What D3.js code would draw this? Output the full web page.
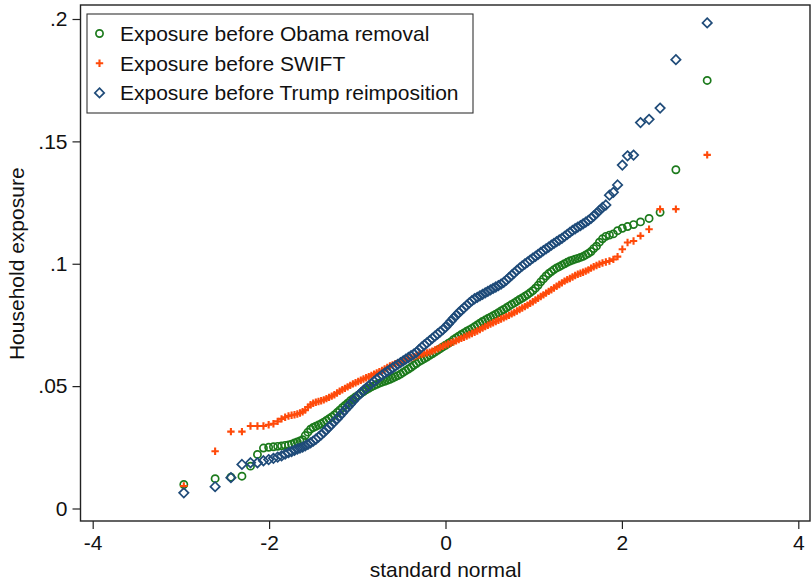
<!DOCTYPE html>
<html>
<head>
<meta charset="utf-8">
<script src="https://cdn.jsdelivr.net/npm/d3@7/dist/d3.min.js"></script>
<style>
  html, body { margin: 0; padding: 0; background: #fff; }
  svg { display: block; font-family: "Liberation Sans", Arial, sans-serif; }
</style>
</head>
<body>
<svg id="chart" width="811" height="580"></svg>
<script>
// Standard normal quantiles (shared by all three series)
const zScores = [
  -2.967, -2.612, -2.433, -2.308, -2.211, -2.132, -2.064, -2.005, -1.951, -1.903,
  -1.859, -1.818, -1.780, -1.745, -1.712, -1.680, -1.650, -1.620,
  -1.59, -1.56, -1.53, -1.50, -1.47, -1.44, -1.41, -1.38, -1.35, -1.32,
  -1.29, -1.26, -1.23, -1.20, -1.17, -1.14, -1.11, -1.08, -1.05, -1.02,
  -0.99, -0.96, -0.93, -0.90, -0.87, -0.84, -0.81, -0.78, -0.75, -0.72,
  -0.69, -0.66, -0.63, -0.60, -0.57, -0.54, -0.51, -0.48, -0.45, -0.42,
  -0.39, -0.36, -0.33, -0.30, -0.27, -0.24, -0.21, -0.18, -0.15, -0.12,
  -0.09, -0.06, -0.03,
  0,
  0.03, 0.06, 0.09, 0.12, 0.15, 0.18, 0.21, 0.24, 0.27, 0.30,
  0.33, 0.36, 0.39, 0.42, 0.45, 0.48, 0.51, 0.54, 0.57, 0.60,
  0.63, 0.66, 0.69, 0.72, 0.75, 0.78, 0.81, 0.84, 0.87, 0.90,
  0.93, 0.96, 0.99, 1.02, 1.05, 1.08, 1.11, 1.14, 1.17, 1.20,
  1.23, 1.26, 1.29, 1.32, 1.35, 1.38, 1.41, 1.44, 1.47, 1.50,
  1.53, 1.56, 1.59,
  1.620, 1.650, 1.680, 1.712, 1.745, 1.780, 1.818, 1.859, 1.903, 1.951,
  2.005, 2.064, 2.132, 2.211, 2.308, 2.433, 2.612, 2.967
];

// Household exposure quantiles, one value per z-score
const obamaExposure = [
  0.0098, 0.0122, 0.0128, 0.0132, 0.0173, 0.0221, 0.0247, 0.0250, 0.0252, 0.0254,
  0.0256, 0.0258, 0.0260, 0.0263, 0.0268, 0.0272, 0.0276, 0.0281,
  0.0298, 0.0312, 0.0324, 0.0331, 0.0336, 0.0341, 0.0346, 0.0353, 0.0360, 0.0367,
  0.0374, 0.0382, 0.0392, 0.0402, 0.0412, 0.0421, 0.0430, 0.0440, 0.0448, 0.0456,
  0.0463, 0.0470, 0.0478, 0.0485, 0.0491, 0.0497, 0.0502, 0.0507, 0.0512, 0.0516,
  0.0520, 0.0524, 0.0528, 0.0533, 0.0538, 0.0543, 0.0549, 0.0556, 0.0563, 0.0570,
  0.0577, 0.0585, 0.0592, 0.0600, 0.0606, 0.0612, 0.0619, 0.0626, 0.0632, 0.0639,
  0.0646, 0.0653, 0.0660,
  0.0667,
  0.0674, 0.0681, 0.0690, 0.0697, 0.0704, 0.0711, 0.0717, 0.0724, 0.0730, 0.0736,
  0.0743, 0.0750, 0.0757, 0.0764, 0.0770, 0.0776, 0.0782, 0.0788, 0.0794, 0.0800,
  0.0807, 0.0813, 0.0820, 0.0827, 0.0834, 0.0840, 0.0847, 0.0854, 0.0860, 0.0867,
  0.0874, 0.0882, 0.0890, 0.0900, 0.0912, 0.0926, 0.0938, 0.0950, 0.0960, 0.0968,
  0.0976, 0.0983, 0.0988, 0.0994, 0.1000, 0.1006, 0.1011, 0.1015, 0.1019, 0.1022,
  0.1026, 0.1030, 0.1036,
  0.1042, 0.1050, 0.1062, 0.1072, 0.1088, 0.1102, 0.1112, 0.1117, 0.1122, 0.1135,
  0.1145, 0.1152, 0.1160, 0.1171, 0.1185, 0.1210, 0.1384, 0.1749
];

const swiftExposure = [
  0.0092, 0.0234, 0.0314, 0.0314, 0.0337, 0.0337, 0.0337, 0.0342, 0.0346, 0.0356,
  0.0366, 0.0373, 0.0378, 0.0381, 0.0383, 0.0386, 0.0390, 0.0395,
  0.0402, 0.0414, 0.0424, 0.0430, 0.0434, 0.0437, 0.0440, 0.0444, 0.0449, 0.0454,
  0.0459, 0.0465, 0.0472, 0.0479, 0.0485, 0.0491, 0.0497, 0.0503, 0.0509, 0.0514,
  0.0519, 0.0524, 0.0529, 0.0534, 0.0539, 0.0544, 0.0549, 0.0554, 0.0559, 0.0564,
  0.0570, 0.0576, 0.0582, 0.0587, 0.0592, 0.0596, 0.0600, 0.0604, 0.0608, 0.0612,
  0.0616, 0.0620, 0.0624, 0.0627, 0.0630, 0.0633, 0.0636, 0.0639, 0.0643, 0.0648,
  0.0653, 0.0658, 0.0663,
  0.0668,
  0.0672, 0.0676, 0.0680, 0.0685, 0.0690, 0.0695, 0.0700, 0.0705, 0.0710, 0.0715,
  0.0720, 0.0725, 0.0731, 0.0737, 0.0743, 0.0749, 0.0754, 0.0759, 0.0764, 0.0769,
  0.0774, 0.0779, 0.0784, 0.0789, 0.0795, 0.0801, 0.0807, 0.0813, 0.0819, 0.0825,
  0.0831, 0.0838, 0.0845, 0.0852, 0.0859, 0.0866, 0.0873, 0.0880, 0.0887, 0.0894,
  0.0901, 0.0908, 0.0915, 0.0922, 0.0929, 0.0935, 0.0940, 0.0946, 0.0952, 0.0957,
  0.0961, 0.0965, 0.0970,
  0.0975, 0.0982, 0.0988, 0.0993, 0.0998, 0.1003, 0.1007, 0.1011, 0.1018, 0.1029,
  0.1059, 0.1087, 0.1093, 0.1114, 0.1141, 0.1223, 0.1223, 0.1445
];

const trumpExposure = [
  0.0064, 0.0089, 0.0126, 0.0180, 0.0187, 0.0187, 0.0195, 0.0200, 0.0205, 0.0210,
  0.0215, 0.0222, 0.0228, 0.0233, 0.0238, 0.0243, 0.0247, 0.0251,
  0.0256, 0.0262, 0.0268, 0.0275, 0.0283, 0.0292, 0.0301, 0.0311, 0.0322, 0.0333,
  0.0344, 0.0355, 0.0366, 0.0378, 0.0390, 0.0402, 0.0414, 0.0426, 0.0438, 0.0450,
  0.0461, 0.0472, 0.0483, 0.0492, 0.0501, 0.0510, 0.0519, 0.0528, 0.0537, 0.0545,
  0.0553, 0.0560, 0.0567, 0.0574, 0.0582, 0.0589, 0.0596, 0.0603, 0.0610, 0.0617,
  0.0624, 0.0631, 0.0638, 0.0649, 0.0659, 0.0668, 0.0677, 0.0686, 0.0695, 0.0704,
  0.0713, 0.0722, 0.0731,
  0.0741,
  0.0753, 0.0765, 0.0777, 0.0789, 0.0800, 0.0810, 0.0820, 0.0830, 0.0840, 0.0849,
  0.0857, 0.0863, 0.0869, 0.0875, 0.0881, 0.0887, 0.0893, 0.0899, 0.0905, 0.0911,
  0.0917, 0.0924, 0.0933, 0.0943, 0.0953, 0.0963, 0.0973, 0.0982, 0.0991, 0.0999,
  0.1007, 0.1015, 0.1023, 0.1030, 0.1038, 0.1046, 0.1054, 0.1061, 0.1068, 0.1076,
  0.1083, 0.1090, 0.1097, 0.1104, 0.1112, 0.1120, 0.1128, 0.1136, 0.1143, 0.1150,
  0.1156, 0.1163, 0.1170,
  0.1177, 0.1185, 0.1195, 0.1206, 0.1218, 0.1230, 0.1240, 0.1280, 0.1292, 0.1322,
  0.1403, 0.1441, 0.1444, 0.1577, 0.1590, 0.1636, 0.1834, 0.1984
];

const seriesNames = [
  "Exposure before Obama removal",
  "Exposure before SWIFT",
  "Exposure before Trump reimposition"
];

const xTicks = [-4, -2, 0, 2, 4];
const yTicks = [0, 0.05, 0.1, 0.15, 0.2];
const yTickLabels = ["0", ".05", ".1", ".15", ".2"];

const xTitle = "standard normal";
const yTitle = "Household exposure";

// ---- layout ----
const svg = d3.select("#chart");
const frame = { left: 80.5, top: 5, right: 810, bottom: 521 };
const textColor = "#111";
const fontSize = 21;

const x = d3.scaleLinear().domain([-4, 4]).range([92.7, 798.3]);
const y = d3.scaleLinear().domain([0, 0.2]).range([508.5, 19]);

const series = [
  { name: seriesNames[0], values: obamaExposure, color: "#1c7a1c", shape: "circle" },
  { name: seriesNames[1], values: swiftExposure, color: "#ff4a0a", shape: "plus" },
  { name: seriesNames[2], values: trumpExposure, color: "#1f4b79", shape: "diamond" }
];

// ---- plot frame ----
svg.append("rect")
  .attr("x", frame.left).attr("y", frame.top)
  .attr("width", frame.right - frame.left)
  .attr("height", frame.bottom - frame.top)
  .attr("fill", "none")
  .attr("stroke", "#222")
  .attr("stroke-width", 1.4);

// ---- axes ----
const yAxis = d3.axisLeft(y)
  .tickValues(yTicks)
  .tickFormat((d, i) => yTickLabels[i])
  .tickSize(8)
  .tickPadding(5);

const gy = svg.append("g")
  .attr("transform", `translate(${frame.left},0)`)
  .call(yAxis);

const xAxis = d3.axisBottom(x)
  .tickValues(xTicks)
  .tickFormat(d3.format("d"))
  .tickSize(8)
  .tickPadding(6);

const gx = svg.append("g")
  .attr("transform", `translate(0,${frame.bottom})`)
  .call(xAxis);

[gx, gy].forEach(g => {
  g.select(".domain").remove();
  g.selectAll(".tick line").attr("stroke", "#222").attr("stroke-width", 1.2);
  g.selectAll(".tick text")
    .attr("fill", textColor)
    .style("font-size", fontSize + "px");
});
gx.selectAll(".tick text").text(d => d < 0 ? "-" + Math.abs(d) : String(d));

// axis titles
svg.append("text")
  .attr("x", (x(-4) + x(4)) / 2)
  .attr("y", 577)
  .attr("text-anchor", "middle")
  .attr("fill", textColor)
  .style("font-size", fontSize + "px")
  .text(xTitle);

svg.append("text")
  .attr("transform", `translate(24,${(y(0) + y(0.2)) / 2}) rotate(-90)`)
  .attr("text-anchor", "middle")
  .attr("fill", textColor)
  .style("font-size", fontSize + "px")
  .text(yTitle);

// ---- markers ----
function drawMarker(g, shape, color, cx, cy) {
  if (shape === "circle") {
    g.append("circle")
      .attr("cx", cx).attr("cy", cy).attr("r", 3.6)
      .attr("fill", "none").attr("stroke", color).attr("stroke-width", 1.7);
  } else if (shape === "plus") {
    const s = 3.7;
    g.append("path")
      .attr("d", `M${cx - s},${cy}H${cx + s}M${cx},${cy - s}V${cy + s}`)
      .attr("fill", "none").attr("stroke", color).attr("stroke-width", 2.1);
  } else {
    const s = 4.7;
    g.append("path")
      .attr("d", `M${cx},${cy - s}L${cx + s},${cy}L${cx},${cy + s}L${cx - s},${cy}Z`)
      .attr("fill", "none").attr("stroke", color).attr("stroke-width", 1.7);
  }
}

const plot = svg.append("g").attr("class", "points");
series.forEach(s => {
  const g = plot.append("g").attr("class", "series");
  s.values.forEach((v, i) => drawMarker(g, s.shape, s.color, x(zScores[i]), y(v)));
});

// ---- legend ----
const legend = svg.append("g").attr("class", "legend");
legend.append("rect")
  .attr("x", 87).attr("y", 14)
  .attr("width", 386).attr("height", 99)
  .attr("fill", "#fff")
  .attr("stroke", "#333")
  .attr("stroke-width", 1.1);

series.forEach((s, i) => {
  const cy = 33.5 + i * 29.7;
  drawMarker(legend, s.shape, s.color, 99.5, cy);
  legend.append("text")
    .attr("x", 120).attr("y", cy)
    .attr("dy", "0.36em")
    .attr("fill", textColor)
    .style("font-size", fontSize + "px")
    .text(s.name);
});
</script>
</body>
</html>
